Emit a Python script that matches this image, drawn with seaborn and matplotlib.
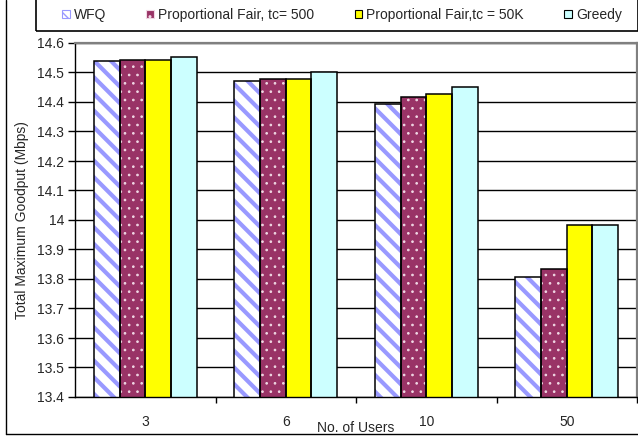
import numpy as np
import pandas as pd
import matplotlib
matplotlib.use("Agg")
import matplotlib.pyplot as plt
import seaborn as sns
from matplotlib.patches import Patch, Rectangle
from matplotlib.lines import Line2D

# Goodput per scheduler for each user count
users = ["3", "6", "10", "50"]
series = ["WFQ", "Proportional Fair, tc= 500", "Proportional Fair,tc = 50K", "Greedy"]
wfq = [14.538, 14.472, 14.392, 13.808]
pf_500 = [14.542, 14.477, 14.418, 13.833]
pf_50k = [14.542, 14.477, 14.427, 13.983]
greedy = [14.553, 14.500, 14.452, 13.983]
y_ticks = [13.4, 13.5, 13.6, 13.7, 13.8, 13.9, 14.0, 14.1, 14.2, 14.3, 14.4, 14.5, 14.6]

face_colors = ["white", "#993366", "#ffff00", "#ccffff"]
hatch_colors = ["#9999ff", "#f0d8e4", None, None]
hatches = ["\\\\", "..", "", ""]
hatch_widths = [3.0, 0.7, 1.0, 1.0]

df = pd.DataFrame({
    "users": users * 4,
    "series": [s for s in series for _ in users],
    "goodput": wfq + pf_500 + pf_50k + greedy,
})

sns.set_style("white")
plt.rcParams["font.family"] = ["Liberation Sans", "DejaVu Sans"]

FS = 10

fig = plt.figure(figsize=(6.38, 4.37), dpi=100)
ax = fig.add_axes([75 / 638, 40 / 437, 562 / 638, 354 / 437])

sns.barplot(data=df, x="users", y="goodput", hue="series", order=users,
            hue_order=series, palette=face_colors, saturation=1, width=0.73,
            legend=False, ax=ax, zorder=2)


def style_hatch(patch, i):
    patch.set_hatch(hatches[i])
    patch.set_edgecolor(hatch_colors[i])
    if hasattr(patch, "set_hatch_linewidth"):
        patch.set_hatch_linewidth(hatch_widths[i])
    else:
        patch._hatch_linewidth = hatch_widths[i]


for i, cont in enumerate(ax.containers):
    for bar in cont:
        bar.set_linewidth(0)
        if hatches[i]:
            style_hatch(bar, i)
        ax.add_patch(Rectangle(bar.get_xy(), bar.get_width(), bar.get_height(),
                               fill=False, edgecolor="black", linewidth=1.1,
                               zorder=3))

ax.set_ylim(13.4, 14.6)
ax.set_xlim(-0.5, 3.5)
ax.set_yticks(y_ticks)
ax.set_yticklabels([f"{v:g}" for v in y_ticks], fontsize=FS)
ax.yaxis.grid(True, color="black", linewidth=1.0, zorder=0)
ax.set_axisbelow(True)
ax.tick_params(axis="y", direction="out", length=5, width=1, color="black",
               pad=3, left=True)

ax.set_xticks(range(len(users)))
ax.set_xticklabels(users, fontsize=FS)
ax.set_xticks([0.5, 1.5, 2.5, 3.5], minor=True)
ax.tick_params(axis="x", which="major", length=0, pad=13)
ax.tick_params(axis="x", which="minor", direction="out", length=4, width=1,
               color="black", bottom=True)

ax.set_xlabel("No. of Users", fontsize=FS, va="center")
ax.xaxis.set_label_coords(0.5, -0.088)
ax.set_ylabel("Total Maximum Goodput (Mbps)", fontsize=FS, va="center")
ax.yaxis.set_label_coords(-0.095, 0.5)

for side in ["left", "bottom"]:
    ax.spines[side].set_color("black")
    ax.spines[side].set_linewidth(1)
for side in ["top", "right"]:
    ax.spines[side].set_color("#808080")
    ax.spines[side].set_linewidth(1.6)

# legend strip across the top
handles = []
for i in range(len(series)):
    h = Patch(facecolor=face_colors[i], edgecolor="black", linewidth=0.8)
    if hatches[i]:
        h = Patch(facecolor=face_colors[i], edgecolor=hatch_colors[i],
                  hatch=hatches[i], linewidth=0.8)
    handles.append(h)
leg = fig.legend(handles, series, loc="center left",
                 bbox_to_anchor=(62 / 638, 1 - 15 / 437), ncol=4,
                 fontsize=FS, frameon=False, borderpad=0, borderaxespad=0,
                 handlelength=0.55, handleheight=0.55, handletextpad=0.3,
                 columnspacing=2.9)
fig.add_artist(Rectangle((36 / 638, 1 - 31 / 437), 602 / 638, 31 / 437 + 0.01,
                         transform=fig.transFigure, fill=False,
                         edgecolor="black", linewidth=1.2))

# outer chart border
fig.add_artist(Line2D([6 / 638, 6 / 638], [3 / 437, 1], color="black",
                      linewidth=1, transform=fig.transFigure))
fig.add_artist(Line2D([6 / 638, 1], [3 / 437, 3 / 437], color="black",
                      linewidth=1, transform=fig.transFigure))

fig.savefig("out.png", dpi=100)
